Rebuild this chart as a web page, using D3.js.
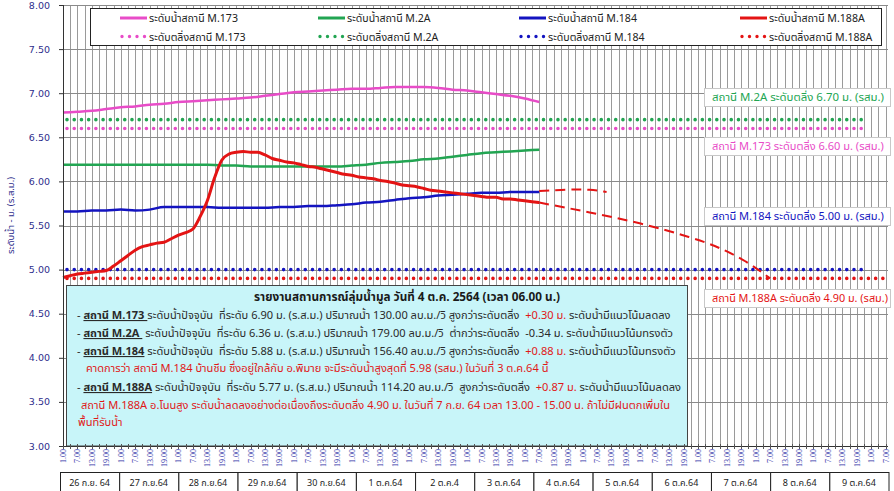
<!DOCTYPE html>
<html>
<head>
<meta charset="utf-8">
<script src="https://cdn.jsdelivr.net/npm/d3@7"></script>
<style>
body { margin: 0; background: #fff; }
svg { display: block; font-family: Tahoma, "Noto Sans Thai", "Noto Sans", "DejaVu Sans", sans-serif; }
</style>
</head>
<body>
<svg id="chart"></svg>
<script>
const width = 894;
const height = 491;

// ---- data ----
const start = new Date(2021, 8, 26, 1);
const axisEnd = new Date(2021, 9, 10, 8);

// readings every 6 hours, 26 Sep 01:00 -> 4 Oct 07:00
const m173 = [6.78, 6.79, 6.80, 6.82, 6.84, 6.85, 6.87, 6.88, 6.90, 6.91, 6.92, 6.93, 6.94, 6.95, 6.97, 6.99, 7.01,
  7.02, 7.03, 7.04, 7.05, 7.05, 7.06, 7.07, 7.07, 7.07, 7.06, 7.04, 7.03, 7.01, 6.99, 6.97, 6.94, 6.90];
const m2a = [6.19, 6.19, 6.19, 6.19, 6.19, 6.19, 6.19, 6.19, 6.19, 6.19, 6.19, 6.18, 6.18, 6.17, 6.17, 6.17, 6.17,
  6.17, 6.17, 6.17, 6.18, 6.19, 6.21, 6.22, 6.23, 6.25, 6.26, 6.28, 6.30, 6.32, 6.33, 6.34, 6.35, 6.36];
const m184 = [5.66, 5.66, 5.67, 5.67, 5.68, 5.67, 5.68, 5.71, 5.71, 5.71, 5.71, 5.70, 5.70, 5.70, 5.70, 5.71, 5.71,
  5.72, 5.72, 5.73, 5.74, 5.76, 5.77, 5.79, 5.81, 5.82, 5.84, 5.85, 5.86, 5.87, 5.87, 5.88, 5.88, 5.88];
// M.188A every 3 hours
const m188a = [4.91, 4.93, 4.95, 4.96, 4.97, 4.98, 4.99, 5.04, 5.10, 5.16, 5.22, 5.26, 5.28, 5.30, 5.31, 5.35, 5.39,
  5.42, 5.46, 5.60, 5.78, 6.04, 6.24, 6.31, 6.33, 6.34, 6.33, 6.33, 6.30, 6.26, 6.24, 6.22, 6.21, 6.19, 6.17, 6.16,
  6.14, 6.12, 6.10, 6.08, 6.07, 6.05, 6.04, 6.03, 6.01, 6.00, 5.98, 5.96, 5.95, 5.94, 5.92, 5.90, 5.89, 5.88, 5.87,
  5.86, 5.85, 5.84, 5.83, 5.82, 5.82, 5.80, 5.80, 5.79, 5.78, 5.77, 5.76];

// forecasts (dashed red)
const forecastTimes184 = ["2021-10-04 07:00", "2021-10-04 20:00", "2021-10-05 04:00", "2021-10-05 11:00"];
const forecast184 = [5.89, 5.91, 5.91, 5.88];
const forecastTimes188 = ["2021-10-04 07:00", "2021-10-05 04:00", "2021-10-06 01:00", "2021-10-06 23:00",
  "2021-10-07 10:00", "2021-10-07 21:00", "2021-10-08 07:00"];
const forecast188 = [5.76, 5.65, 5.53, 5.36, 5.25, 5.10, 4.90];

const stations = ["M.173", "M.2A", "M.184", "M.188A"];
const bankLevels = [6.60, 6.70, 5.00, 4.90];
const bankEnds = ["2021-10-09 21:00", "2021-10-09 21:00", "2021-10-09 23:30", "2021-10-10 08:00"];
const colors = ["#e84cc8", "#22a552", "#1414c0", "#e41414"];

const dateLabels = ["26 ก.ย. 64", "27 ก.ย.64", "28 ก.ย.64", "29 ก.ย.64", "30 ก.ย.64", "1 ต.ค.64", "2 ต.ค.4",
  "3 ต.ค.64", "4 ต.ค.64", "5 ต.ค.64", "6 ต.ค.64", "7 ต.ค.64", "8 ต.ค.64", "9 ต.ค.64"];

const reportTitle = "รายงานสถานการณ์ลุ่มน้ำมูล  วันที่ 4 ต.ค. 2564  (เวลา 06.00 น.)";
const reportLines = [
  [["- ", "n"], ["สถานี M.173 ", "u"], ["ระดับน้ำปัจจุบัน  ที่ระดับ 6.90 ม. (ร.ส.ม.) ปริมาณน้ำ 130.00 ลบ.ม./วิ สูงกว่าระดับตลิ่ง  ", "n"], ["+0.30 ม.", "r"], [" ระดับน้ำมีแนวโน้มลดลง", "n"]],
  [["- ", "n"], ["สถานี M.2A ", "u"], [" ระดับน้ำปัจจุบัน  ที่ระดับ 6.36 ม. (ร.ส.ม.) ปริมาณน้ำ 179.00 ลบ.ม./วิ  ต่ำกว่าระดับตลิ่ง  -0.34 ม. ระดับน้ำมีแนวโน้มทรงตัว", "n"]],
  [["- ", "n"], ["สถานี M.184", "u"], [" ระดับน้ำปัจจุบัน  ที่ระดับ 5.88 ม. (ร.ส.ม.) ปริมาณน้ำ 156.40 ลบ.ม./วิ สูงกว่าระดับตลิ่ง  ", "n"], ["+0.88 ม.", "r"], [" ระดับน้ำมีแนวโน้มทรงตัว", "n"]],
  [["คาดการว่า สถานี M.184 บ้านชีม ซึ่งอยู่ใกล้กับ อ.พิมาย จะมีระดับน้ำสูงสุดที่ 5.98 (รสม.) ในวันที่ 3 ต.ค.64 นี้", "r"]],
  [["- ", "n"], ["สถานี M.188A", "u"], [" ระดับน้ำปัจจุบัน  ที่ระดับ 5.77 ม. (ร.ส.ม.) ปริมาณน้ำ 114.20 ลบ.ม./วิ  สูงกว่าระดับตลิ่ง  ", "n"], ["+0.87 ม.", "r"], [" ระดับน้ำมีแนวโน้มลดลง", "n"]],
  [["สถานี M.188A อ.โนนสูง ระดับน้ำลดลงอย่างต่อเนื่องถึงระดับตลิ่ง 4.90 ม. ในวันที่ 7 ก.ย. 64 เวลา 13.00 - 15.00 น. ถ้าไม่มีฝนตกเพิ่มใน", "r"]],
  [["พื้นที่รับน้ำ", "r"]]
];

// ---- layout ----
const plot = {left: 63, right: 888, top: 5, bottom: 446};
const parseT = d3.timeParse("%Y-%m-%d %H:%M");

const svg = d3.select("#chart").attr("width", width).attr("height", height);

const x = d3.scaleTime().domain([start, axisEnd]).range([plot.left, plot.right]);
const y = d3.scaleLinear().domain([3, 8]).range([plot.bottom, plot.top]);

const times6 = d3.timeHour.range(start, d3.timeHour.offset(start, 6 * m173.length), 6);
const times3 = d3.timeHour.range(start, d3.timeHour.offset(start, 3 * m188a.length), 3);

// shrink/grow a text node's font so it spans the wanted width
function fitWidth(sel, target) {
  const fs = parseFloat(sel.style("font-size"));
  const w = sel.node().getComputedTextLength();
  sel.style("font-size", (fs * target / w).toFixed(2) + "px");
  return fs * target / w;
}

// vertical grid every 3h
svg.append("g")
   .selectAll("line")
   .data(d3.timeHour.range(start, axisEnd, 3))
   .join("line")
   .attr("x1", d => Math.round(x(d)) + 0.5).attr("x2", d => Math.round(x(d)) + 0.5)
   .attr("y1", plot.top).attr("y2", plot.bottom)
   .attr("stroke", "#9a9a9a").attr("stroke-width", 1);

// horizontal grid
svg.append("g")
   .selectAll("line")
   .data(d3.range(3.5, 8.01, 0.5))
   .join("line")
   .attr("x1", plot.left).attr("x2", plot.right)
   .attr("y1", d => Math.round(y(d)) + 0.5).attr("y2", d => Math.round(y(d)) + 0.5)
   .attr("stroke", "#8a8a8a").attr("stroke-width", 1);

// y axis
const yAxis = svg.append("g")
   .attr("transform", `translate(${plot.left},0)`)
   .call(d3.axisLeft(y).tickValues(d3.range(3, 8.01, 0.5)).tickFormat(d3.format(".2f")).tickSize(4).tickPadding(9));
yAxis.select(".domain").attr("stroke", "#333");
yAxis.selectAll(".tick line").attr("stroke", "#333");
yAxis.selectAll("text").attr("fill", "#2e2e8c").style("font-size", "9.5px").style("font-family", "'DejaVu Sans', sans-serif");

svg.append("text")
   .attr("transform", `translate(14,${(plot.top + plot.bottom) / 2 - 10}) rotate(-90)`)
   .attr("text-anchor", "middle")
   .attr("fill", "#2e2e8c")
   .style("font-size", "9.5px")
   .text("ระดับน้ำ - ม. (ร.ส.ม.)");

// bank level dotted lines
bankLevels.forEach((lv, i) => {
  svg.append("line")
     .attr("x1", plot.left + 4).attr("x2", x(parseT(bankEnds[i])))
     .attr("y1", y(lv)).attr("y2", y(lv))
     .attr("stroke", colors[i]).attr("stroke-width", 3.6)
     .attr("stroke-linecap", "round")
     .attr("stroke-dasharray", "0,7.22");
});

// info box
svg.append("rect")
   .attr("x", 66.5).attr("y", 285.5).attr("width", 621).attr("height", plot.bottom - 285.5)
   .attr("fill", "#c8f5f9").attr("stroke", "#444").attr("stroke-width", 1);

const title = svg.append("text")
   .attr("x", 407).attr("y", 301)
   .attr("text-anchor", "middle")
   .attr("fill", "#1a1a1a")
   .style("font-size", "11px").style("font-weight", "bold")
   .text(reportTitle);
fitWidth(title, 306);

const lineY = [319, 337, 355, 372, 391, 409, 426];
const lineX = [77, 77, 77, 86, 77, 81, 78];
const lineNodes = reportLines.map((segs, i) => {
  const t = svg.append("text")
     .attr("x", lineX[i]).attr("y", lineY[i])
     .style("font-size", "11px");
  segs.forEach(([txt, kind]) => {
    t.append("tspan")
     .attr("fill", kind === "r" ? "#e01818" : "#2a2a2a")
     .style("font-weight", kind === "u" ? "bold" : "normal")
     .style("text-decoration", kind === "u" ? "underline" : "none")
     .style("white-space", "pre")
     .text(txt);
  });
  return t;
});
// size all report lines so the first one spans the box like the original
const reportSize = fitWidth(lineNodes[0], 594);
lineNodes.forEach(t => t.style("font-size", reportSize.toFixed(2) + "px"));

// water level lines
const line = d3.line().x(d => x(d[0])).y(d => y(d[1])).curve(d3.curveMonotoneX);
const seriesData = [
  times6.map((t, i) => [t, m173[i]]),
  times6.map((t, i) => [t, m2a[i]]),
  times6.map((t, i) => [t, m184[i]]),
  times3.map((t, i) => [t, m188a[i]])
];
seriesData.forEach((d, i) => {
  svg.append("path")
     .datum(d)
     .attr("d", line)
     .attr("fill", "none")
     .attr("stroke", colors[i])
     .attr("stroke-width", i === 3 ? 3 : 2.5)
     .attr("stroke-linejoin", "round");
});

// forecasts
const smooth = d3.line().x(d => x(d[0])).y(d => y(d[1])).curve(d3.curveBasis);
[[forecastTimes184, forecast184], [forecastTimes188, forecast188]].forEach(([ts, vs]) => {
  svg.append("path")
     .datum(ts.map((t, i) => [parseT(t), vs[i]]))
     .attr("d", smooth)
     .attr("fill", "none")
     .attr("stroke", colors[3])
     .attr("stroke-width", 2)
     .attr("stroke-dasharray", "10,6");
});

// bank level labels
const bankBoxes = [
  {i: 1, y: 88},
  {i: 0, y: 137},
  {i: 2, y: 207},
  {i: 3, y: 289}
];
bankBoxes.forEach(b => {
  svg.append("rect")
     .attr("x", 704.5).attr("y", b.y + 0.5).attr("width", 186).attr("height", 18)
     .attr("fill", "#fff").attr("stroke", "#c8c8c8");
  const t = svg.append("text")
     .attr("x", 712).attr("y", b.y + 13)
     .attr("fill", colors[b.i])
     .style("font-size", "11px")
     .text(`สถานี ${stations[b.i]} ระดับตลิ่ง ${bankLevels[b.i].toFixed(2)} ม. (รสม.)`);
  fitWidth(t, b.i === 3 ? 176 : 172);
});

// x axis
svg.append("line")
   .attr("x1", plot.left).attr("x2", plot.right)
   .attr("y1", plot.bottom + 0.5).attr("y2", plot.bottom + 0.5)
   .attr("stroke", "#333");
svg.append("g")
   .selectAll("line")
   .data(d3.timeHour.range(start, axisEnd, 3))
   .join("line")
   .attr("x1", d => Math.round(x(d)) + 0.5).attr("x2", d => Math.round(x(d)) + 0.5)
   .attr("y1", plot.bottom - 2).attr("y2", plot.bottom + 3)
   .attr("stroke", "#555");
svg.append("line")
   .attr("x1", plot.left + 0.5).attr("x2", plot.left + 0.5)
   .attr("y1", plot.top).attr("y2", plot.bottom)
   .attr("stroke", "#333");

const fmtHour = d3.timeFormat("%-H.00");
svg.append("g")
   .selectAll("text")
   .data(d3.timeHour.range(start, d3.timeHour.offset(axisEnd, 1), 6))
   .join("text")
   .attr("transform", d => `translate(${x(d) + 3},${plot.bottom + 3}) rotate(-90)`)
   .attr("text-anchor", "end")
   .attr("fill", "#3434a8")
   .style("font-size", "8px")
   .style("font-family", "'Liberation Serif', serif")
   .text(fmtHour);

// legend
svg.append("rect")
   .attr("x", 90.5).attr("y", 8.5).attr("width", 791).attr("height", 37)
   .attr("fill", "#fff").attr("stroke", "#222");
const legendX = [120, 318, 519, 740];
let legendSize = null;
stations.forEach((s, i) => {
  const lx = legendX[i];
  svg.append("line")
     .attr("x1", lx).attr("x2", lx + 27).attr("y1", 18).attr("y2", 18)
     .attr("stroke", colors[i]).attr("stroke-width", 3);
  const t1 = svg.append("text")
     .attr("x", lx + 29).attr("y", 22)
     .attr("fill", "#222").style("font-size", "11px")
     .text(`ระดับน้ำสถานี ${s}`);
  if (legendSize === null) legendSize = fitWidth(t1, 89);
  t1.style("font-size", legendSize.toFixed(2) + "px");
  svg.append("line")
     .attr("x1", lx + 2).attr("x2", lx + 26).attr("y1", 36.5).attr("y2", 36.5)
     .attr("stroke", colors[i]).attr("stroke-width", 3.4)
     .attr("stroke-linecap", "round").attr("stroke-dasharray", "0,7.5");
  svg.append("text")
     .attr("x", lx + 29).attr("y", 40.5)
     .attr("fill", "#222").style("font-size", legendSize.toFixed(2) + "px")
     .text(`ระดับตลิ่งสถานี ${s}`);
});

// date table
const band = d3.scaleBand().domain(dateLabels).range([60, 888.5]);
const cells = svg.append("g");
cells.selectAll("rect")
   .data(dateLabels)
   .join("rect")
   .attr("x", d => band(d) + 0.5).attr("y", 472.5)
   .attr("width", band.bandwidth()).attr("height", 24)
   .attr("fill", "#fff").attr("stroke", "#222");
cells.selectAll("text")
   .data(dateLabels)
   .join("text")
   .attr("x", d => band(d) + band.bandwidth() / 2).attr("y", 486)
   .attr("text-anchor", "middle")
   .attr("fill", "#222").style("font-size", "9px")
   .text(d => d);
</script>
</body>
</html>
